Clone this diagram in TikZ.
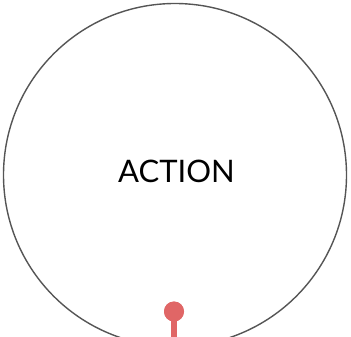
\documentclass[tikz,border=0pt]{standalone}
\usepackage{fontspec}
\setmainfont{Lato}
\definecolor{ringgray}{HTML}{555555}
\definecolor{pinred}{HTML}{E06666}
\begin{document}
\begin{tikzpicture}[x=1pt,y=1pt,
    ring/.style={draw=ringgray,circle,line width=1.4pt,minimum size=343pt,inner sep=0pt},
    pinhead/.style={fill=pinred,circle,minimum size=20pt,inner sep=0pt}]
    \useasboundingbox (0,-337) rectangle (351,0);
    \node[ring] (action) at (175,-175) {};
    \node (title) at (176.5,-171) {\fontsize{31}{31}\selectfont ACTION};
    \node[pinhead] (pin) at (174,-311.5) {};
    \coordinate (pinend) at (174,-340);
    \draw[pinred,line width=6pt] (pin.center) -- (pinend);
    \node[pinhead] at (pin) {};
\end{tikzpicture}
\end{document}
